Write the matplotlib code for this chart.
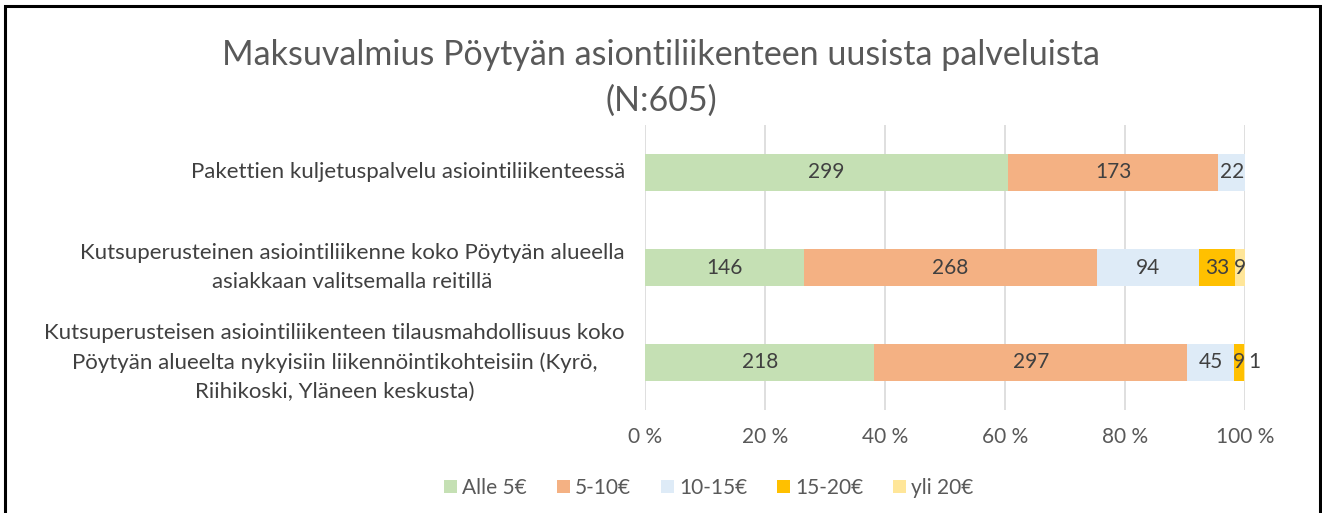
import matplotlib
matplotlib.use("Agg")
import matplotlib.pyplot as plt
import numpy as np
from matplotlib.patches import Rectangle

plt.rcParams['font.family'] = ['Lato', 'DejaVu Sans']

categories = [
    "Pakettien kuljetuspalvelu asiointiliikenteessä",
    "Kutsuperusteinen asiointiliikenne koko Pöytyän alueella\nasiakkaan valitsemalla reitillä",
    "Kutsuperusteisen asiointiliikenteen tilausmahdollisuus koko\nPöytyän alueelta nykyisiin liikennöintikohteisiin (Kyrö,\nRiihikoski, Yläneen keskusta)",
]
series_names = ["Alle 5€", "5-10€", "10-15€", "15-20€", "yli 20€"]
alle5 = [299, 146, 218]
e5_10 = [173, 268, 297]
e10_15 = [22, 94, 45]
e15_20 = [0, 33, 9]
yli20 = [0, 9, 1]
colors = ["#C5E0B4", "#F4B183", "#DEEBF7", "#FFC000", "#FFE699"]
xticks = [0, 20, 40, 60, 80, 100]
xticklabels = ["0 %", "20 %", "40 %", "60 %", "80 %", "100 %"]
title = "Maksuvalmius Pöytyän asiontiliikenteen uusista palveluista\n(N:605)"

data = np.array([alle5, e5_10, e10_15, e15_20, yli20], dtype=float)
totals = data.sum(axis=0)
pct = data / totals * 100

fig = plt.figure(figsize=(13.22, 5.13), dpi=100)
W, H = 1322, 513
ax = fig.add_axes([645 / W, 1 - 410 / H, 600 / W, 285 / H])

y = np.arange(len(categories))
left = np.zeros(len(categories))
text_col = "#404040"
for i, name in enumerate(series_names):
    ax.barh(y, pct[i], left=left, height=0.39, color=colors[i], label=name, zorder=3)
    for j in range(len(categories)):
        v = data[i, j]
        if v <= 0:
            continue
        cx = left[j] + pct[i, j] / 2
        if pct[i, j] < 1:
            cx = left[j] + pct[i, j] + 1.5
        ax.text(cx, y[j], f"{int(v)}", ha="center", va="center",
                fontsize=15, color=text_col, zorder=4)
    left += pct[i]

ax.set_xlim(0, 100)
ax.set_ylim(2.5, -0.5)
ax.set_xticks(xticks)
ax.set_xticklabels(xticklabels, fontsize=15, color="#595959")
ax.set_yticks(y)
ax.set_yticklabels(categories, fontsize=16, color=text_col, linespacing=1.57,
                   multialignment="center", va="center")
ax.tick_params(axis="both", length=0)
ax.tick_params(axis="y", pad=14.5)
ax.tick_params(axis="x", pad=12)
ax.grid(axis="x", color="#D9D9D9", linewidth=1.2, zorder=0)
for s in ax.spines.values():
    s.set_visible(False)

fig.text(0.5, 1 - 78 / H, title, ha="center", va="center", fontsize=24.5,
         color="#595959", linespacing=1.5)

leg = fig.legend(loc="center", bbox_to_anchor=(709 / W, 1 - 488 / H), ncol=5,
                 frameon=False, fontsize=15, handlelength=0.6, handleheight=0.6,
                 handletextpad=0.25, columnspacing=1.45)
for t in leg.get_texts():
    t.set_color("#595959")

fig.patches.append(Rectangle((4.5 / W, -0.1), (1320 - 4.5) / W, 1.1 - 6 / H,
                             transform=fig.transFigure, fill=False,
                             edgecolor="black", linewidth=2.2))

fig.savefig("out.png", dpi=100, facecolor="white")
